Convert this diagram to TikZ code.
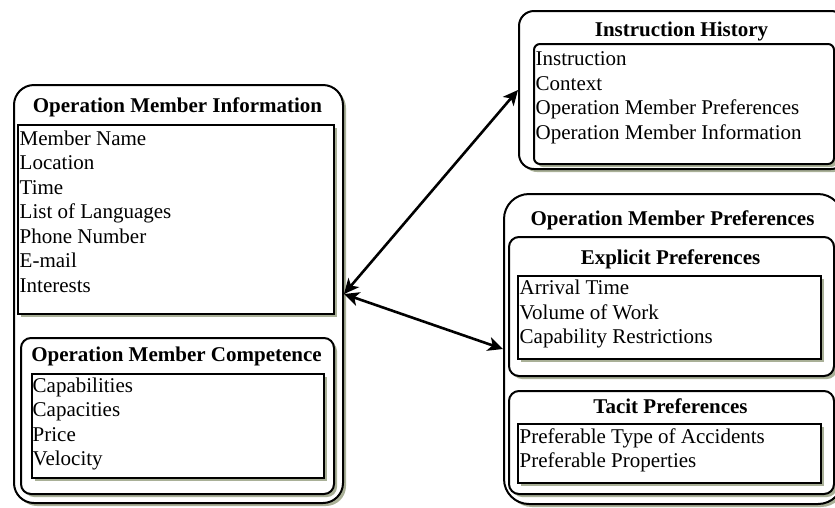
\documentclass[tikz,border=0pt]{standalone}
\usepackage{fontspec}
\setmainfont{Liberation Serif}
\usetikzlibrary{arrows.meta,shadows}
\definecolor{shadowc}{HTML}{A9B097}
\newcommand{\itmline}[1]{\strut #1}
\tikzset{
  box/.style={draw=black, line width=2pt, fill=white, inner sep=0pt, anchor=north west,
    drop shadow={shadow xshift=3pt, shadow yshift=-3pt, fill=shadowc, opacity=1}},
  title/.style={font=\fontsize{21}{24.5}\selectfont\bfseries, anchor=base, inner sep=0pt},
  items/.style={font=\fontsize{21}{24.5}\selectfont, anchor=north west, inner sep=0pt, align=left},
  link/.style={line width=2.6pt, {Stealth[length=15pt,width=14pt,inset=4pt]}-{Stealth[length=15pt,width=14pt,inset=4pt]}}
}
\begin{document}
\begin{tikzpicture}[x=1pt,y=-1pt]
\clip (0,0) rectangle (835,507);
% left group
\node[box, rounded corners=20pt, minimum width=329pt, minimum height=418pt] (info) at (13,84) {};
\node[title] (infot) at (177.5,112) {Operation Member Information};
\node[box, minimum width=316pt, minimum height=189pt] (infol) at (17,124) {};
\node[items] (infox) at (19.5,127.85) {\itmline{Member Name}\\\itmline{Location}\\\itmline{Time}\\\itmline{List of Languages}\\\itmline{Phone Number}\\\itmline{E-mail}\\\itmline{Interests}};
\node[box, rounded corners=10pt, minimum width=313pt, minimum height=156pt] (comp) at (20,337) {};
\node[title] (compt) at (176.5,361) {Operation Member Competence};
\node[box, minimum width=292pt, minimum height=104pt] (compl) at (31,373) {};
\node[items] (compx) at (32.5,374.85) {\itmline{Capabilities}\\\itmline{Capacities}\\\itmline{Price}\\\itmline{Velocity}};
% instruction history
\node[box, rounded corners=15pt, minimum width=327pt, minimum height=158pt] (ih) at (518,10) {};
\node[title] (iht) at (681.5,36) {Instruction History};
\node[box, rounded corners=6pt, minimum width=300pt, minimum height=120pt] (ihl) at (533,43) {};
\node[items] (ihx) at (535.5,48.35) {\itmline{Instruction}\\\itmline{Context}\\\itmline{Operation Member Preferences}\\\itmline{Operation Member Information}};
% preferences
\node[box, rounded corners=25pt, minimum width=339pt, minimum height=310pt] (pref) at (503,193) {};
\node[title] (preft) at (672.5,225) {Operation Member Preferences};
\node[box, rounded corners=10pt, minimum width=325pt, minimum height=139pt] (expl) at (508,236) {};
\node[title] (explt) at (670.5,264) {Explicit Preferences};
\node[box, minimum width=303pt, minimum height=83pt] (expll) at (517,275) {};
\node[items] (explx) at (519.5,277.35) {\itmline{Arrival Time}\\\itmline{Volume of Work}\\\itmline{Capability Restrictions}};
\node[box, rounded corners=10pt, minimum width=325pt, minimum height=103pt] (tacit) at (508,390) {};
\node[title] (tacitt) at (670.5,413) {Tacit Preferences};
\node[box, minimum width=303pt, minimum height=59pt] (tacitl) at (517,423) {};
\node[items] (tacitx) at (519.5,425.85) {\itmline{Preferable Type of Accidents}\\\itmline{Preferable Properties}};
% connectors
\draw[link] (info.east) -- (ih.west);
\draw[link] (info.east) -- (pref.west);
\end{tikzpicture}
\end{document}
